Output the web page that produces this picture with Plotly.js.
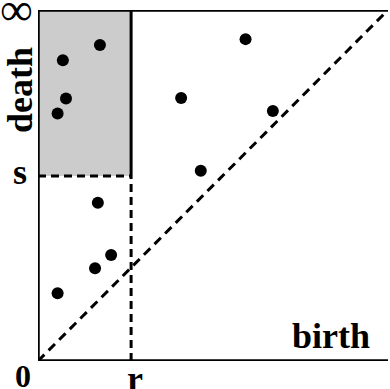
<!DOCTYPE html>
<html><head><meta charset="utf-8">
<script src="https://cdn.plot.ly/plotly-3.0.1.min.js"></script>
<style>html,body{margin:0;padding:0;background:#fff}#c{width:390px;height:389px}</style>
</head><body><div id="c"></div>
<script>
const birth = [0.177, 0.071, 0.080, 0.056, 0.171, 0.209, 0.163, 0.056, 0.593, 0.409, 0.671, 0.465];
const death = [0.900, 0.857, 0.748, 0.705, 0.451, 0.302, 0.264, 0.193, 0.917, 0.749, 0.712, 0.542];
const rVal = 0.266;
const sVal = 0.527;
const diagX = [0, 1];
const diagY = [0, 1];

const F = {family: 'Liberation Serif, Times New Roman, serif', size: 36, color: '#000', weight: 'bold'};

const traces = [
  {x: diagX, y: diagY, mode: 'lines', line: {color: '#000', width: 3, dash: '9px,6px'}, hoverinfo: 'skip'},
  {x: birth, y: death, mode: 'markers', marker: {color: '#000', size: 12}, hoverinfo: 'skip'}
];

const shapes = [
  {type: 'rect', layer: 'below', x0: 0, x1: rVal, y0: sVal, y1: 1, fillcolor: '#cccccc', line: {width: 0}},
  {type: 'line', x0: rVal, x1: rVal, y0: sVal, y1: 1, line: {color: '#000', width: 3}},
  {type: 'line', x0: rVal, x1: rVal, y0: 0, y1: sVal, line: {color: '#000', width: 3, dash: '8px,5px'}},
  {type: 'line', x0: 0, x1: rVal, y0: sVal, y1: sVal, line: {color: '#000', width: 3, dash: '8px,5px'}},
  {type: 'line', x0: 0, x1: 0, y0: 0, y1: 1, line: {color: '#000', width: 3.5}},
  {type: 'line', x0: 0, x1: 1, y0: 0, y1: 0, line: {color: '#000', width: 3.5}},
  {type: 'line', x0: 0, x1: 1, y0: 1, y1: 1, line: {color: '#000', width: 3.5}}
];

const ann = (text, x, y, xs, ys, extra) => Object.assign({text, x, y, xref: 'x', yref: 'y', xshift: xs, yshift: ys, showarrow: false, font: F, xanchor: 'center', yanchor: 'middle'}, extra || {});

const annotations = [
  ann('∞', 0, 1, -22, 1, {font: Object.assign({}, F, {size: 46, weight: 'normal'})}),
  ann('death', 0, 0.772, -18, 0, {textangle: -90}),
  ann('s', 0, sVal, -18, 4),
  ann('0', 0, 0, -15, -15, {font: Object.assign({}, F, {size: 32})}),
  ann('r', rVal, 0, 4, -18),
  ann('birth', 0.837, 0.07, 0, 0)
];

Plotly.newPlot('c', traces, {
  width: 390, height: 389,
  margin: {l: 38, r: 2, t: 10, b: 28},
  paper_bgcolor: '#fff', plot_bgcolor: '#fff',
  showlegend: false,
  xaxis: {range: [0, 1], visible: false, fixedrange: true},
  yaxis: {range: [0, 1], visible: false, fixedrange: true},
  shapes, annotations
}, {staticPlot: true});
</script>
</body></html>
